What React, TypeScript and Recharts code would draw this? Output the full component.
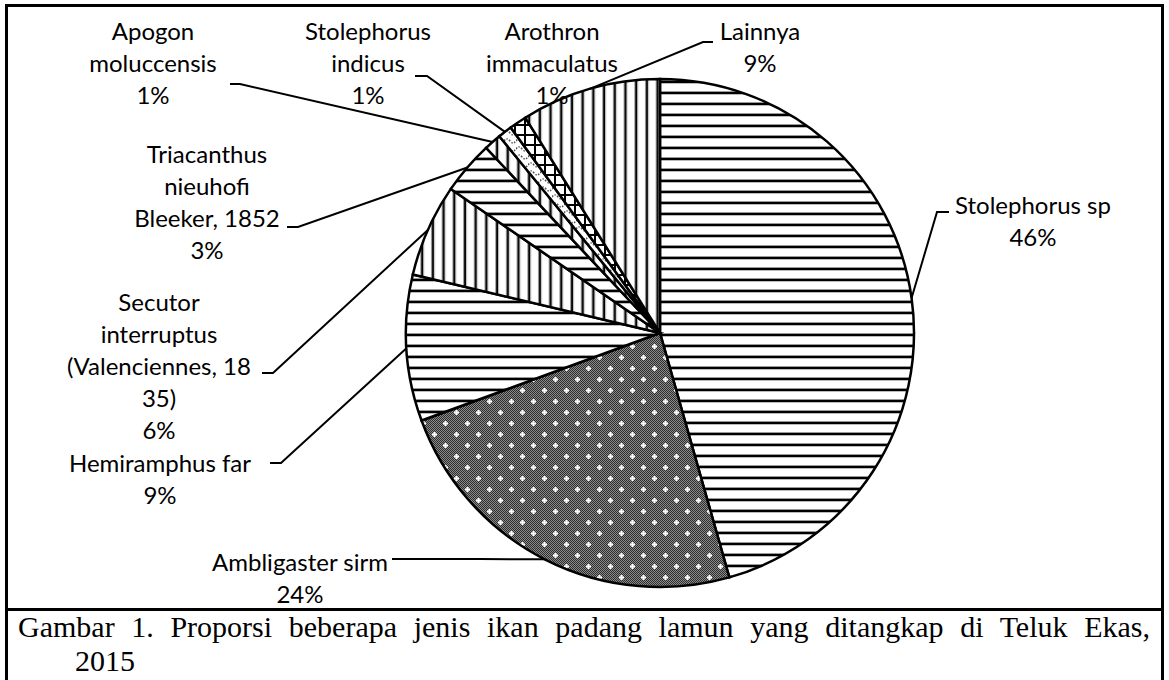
import { PieChart, Pie, Cell } from "recharts";

// proporsi jenis ikan (%), searah jarum jam dari jam 12
const species = [
  "Stolephorus sp",
  "Ambligaster sirm",
  "Hemiramphus far",
  "Secutor interruptus (Valenciennes, 1835)",
  "Triacanthus nieuhofi Bleeker, 1852",
  "Apogon moluccensis",
  "Stolephorus indicus",
  "Arothron immaculatus",
  "Lainnya",
];
const shares = [45.6, 23.8, 9.3, 5.9, 3.4, 1.1, 0.9, 1.1, 8.9];
const labelText = [
  ["Stolephorus sp"],
  ["Ambligaster sirm"],
  ["Hemiramphus far"],
  ["Secutor", "interruptus", "(Valenciennes, 18", "35)"],
  ["Triacanthus", "nieuhofi", "Bleeker, 1852"],
  ["Apogon", "moluccensis"],
  ["Stolephorus", "indicus"],
  ["Arothron", "immaculatus"],
  ["Lainnya"],
];
const fills = ["hl", "dots", "hl", "vl", "hl", "vl", "wave", "grid", "vl"];

const rows = species.map((name, i) => ({ name, value: shares[i] }));

// where Excel put each label block + its leader elbow
const LAYOUT: { x: number; y: number; end?: number[]; elbow?: number[] }[] = [
  { x: 1033, y: 205, end: [949, 212], elbow: [937, 212] },
  { x: 300, y: 562, end: [392, 559], elbow: [480, 559] },
  { x: 160, y: 463, end: [270, 463], elbow: [281, 463] },
  { x: 159, y: 302, end: [262, 373], elbow: [273, 373] },
  { x: 207, y: 154, end: [287, 227], elbow: [298, 227] },
  { x: 153, y: 31, end: [230, 84], elbow: [240, 84] },
  { x: 368, y: 31, end: [415, 76], elbow: [427, 76] },
  { x: 552, y: 31 },
  { x: 760, y: 31, end: [713, 42], elbow: [703, 42] },
];

const RAD = Math.PI / 180;
const LINE_H = 32;

const renderLabel = (p: any) => {
  const { cx, cy, midAngle, outerRadius, index } = p;
  const L = LAYOUT[index];
  const ax = cx + outerRadius * Math.cos(-midAngle * RAD);
  const ay = cy + outerRadius * Math.sin(-midAngle * RAD);
  const lines = [...labelText[index], `${Math.round(shares[index])}%`];
  return (
    <g key={`lbl-${index}`}>
      {L.end && L.elbow && (
        <polyline
          points={`${L.end[0]},${L.end[1]} ${L.elbow[0]},${L.elbow[1]} ${ax},${ay}`}
          fill="none" stroke="#000" strokeWidth={2}
        />
      )}
      <text textAnchor="middle" fontFamily="Lato" fontSize={24} fill="#000">
        {lines.map((t, i) => (
          <tspan key={i} x={L.x} y={L.y + i * LINE_H + 9}>{t}</tspan>
        ))}
      </text>
    </g>
  );
};

function Patterns() {
  return (
    <svg width={0} height={0} style={{ position: "absolute" }}>
      <defs>
        <pattern id="hl" width={10} height={11} patternUnits="userSpaceOnUse">
          <rect width={10} height={11} fill="#fff" />
          <rect y={3} width={10} height={1} fill="#999" />
          <rect y={4} width={10} height={2} fill="#000" />
          <rect y={6} width={10} height={1} fill="#bbb" />
        </pattern>
        <pattern id="vl" width={10.7} height={10} patternUnits="userSpaceOnUse">
          <rect width={10.7} height={10} fill="#fff" />
          <rect x={3} width={1} height={10} fill="#999" />
          <rect x={4} width={2} height={10} fill="#000" />
          <rect x={6} width={1} height={10} fill="#bbb" />
        </pattern>
        <pattern id="grid" width={10} height={10} patternUnits="userSpaceOnUse">
          <rect width={10} height={10} fill="#fff" />
          <rect x={4} width={2} height={10} fill="#000" />
          <rect y={4} width={10} height={2} fill="#000" />
        </pattern>
        <pattern id="checker" width={2} height={2} patternUnits="userSpaceOnUse">
          <rect width={2} height={2} fill="#8a8a8a" />
          <rect width={1} height={1} fill="#2e2e2e" />
          <rect x={1} y={1} width={1} height={1} fill="#2e2e2e" />
        </pattern>
        <pattern id="dots" width={22} height={22} patternUnits="userSpaceOnUse">
          <rect width={22} height={22} fill="url(#checker)" />
          <rect x={3} y={4.5} width={5} height={2} fill="#fff" />
          <rect x={4.5} y={3} width={2} height={5} fill="#fff" />
          <rect x={14} y={15.5} width={5} height={2} fill="#fff" />
          <rect x={15.5} y={14} width={2} height={5} fill="#fff" />
        </pattern>
        <pattern id="wave" width={12} height={8} patternUnits="userSpaceOnUse">
          <rect width={12} height={8} fill="#fff" />
          <path d="M0,5 Q3,1 6,5 T12,5" fill="none" stroke="#555" strokeWidth={1.5} strokeDasharray="1.5 1.5" />
        </pattern>
      </defs>
    </svg>
  );
}

const captionFont = {
  fontFamily: "'Liberation Serif', 'Times New Roman', serif",
  fontSize: 30,
  lineHeight: "34px",
  color: "#000",
};

export default function App() {
  return (
    <div style={{ position: "absolute", left: 0, top: 0, width: 1169, height: 680, background: "#fff", overflow: "hidden" }}>
      <Patterns />
      <div style={{ position: "absolute", left: 5, top: 4, width: 1159, height: 720, border: "3px solid #000", boxSizing: "border-box" }} />
      <div style={{ position: "absolute", left: 5, top: 608, width: 1159, height: 3, background: "#000" }} />
      <div style={{ position: "absolute", left: 0, top: 0 }}>
        <PieChart width={1169} height={608}>
          <Pie
            data={rows}
            dataKey="value"
            nameKey="name"
            cx={655}
            cy={328}
            outerRadius={254}
            startAngle={90}
            endAngle={-270}
            stroke="#000"
            strokeWidth={2.5}
            label={renderLabel}
            labelLine={false}
            isAnimationActive={false}
          >
            {rows.map((r, i) => (
              <Cell key={r.name} fill={`url(#${fills[i]})`} />
            ))}
          </Pie>
        </PieChart>
      </div>
      <div style={{ ...captionFont, position: "absolute", left: 18, top: 610, width: 1132, textAlign: "justify", textAlignLast: "justify" }}>
        Gambar 1. Proporsi beberapa jenis ikan padang lamun yang ditangkap di Teluk Ekas,
      </div>
      <div style={{ ...captionFont, position: "absolute", left: 75, top: 644 }}>
        2015
      </div>
    </div>
  );
}
